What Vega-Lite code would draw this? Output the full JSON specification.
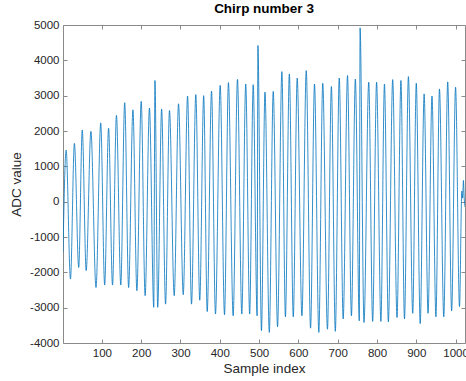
{
  "$schema": "https://vega.github.io/schema/vega-lite/v6.json",
  "autosize": "none",
  "width": 402,
  "height": 318,
  "padding": {"left": 63, "top": 25, "right": 1, "bottom": 38},
  "background": "white",
  "title": {"text": "Chirp number 3", "fontSize": 13.5, "fontWeight": "bold", "color": "#000000", "font": "Liberation Sans", "offset": 4, "anchor": "middle", "frame": "group"},
  "config": {
    "view": {"stroke": null},
    "font": "Liberation Sans",
    "axis": {"grid": false, "domainColor": "#8a8a8a", "tickColor": "#8a8a8a", "domainWidth": 1, "tickWidth": 1, "labelColor": "#262626", "titleColor": "#262626", "labelFontSize": 11.5, "titleFontSize": 13.5, "titleFontWeight": "normal", "labelFont": "Liberation Sans", "titleFont": "Liberation Sans"}
  },
  "data": {"values": [
    {"i": 1, "v": -1435}, {"i": 9, "v": 1460}, {"i": 20, "v": -2190}, {"i": 30, "v": 1650}, {"i": 41, "v": -1860},
    {"i": 50, "v": 2030}, {"i": 60, "v": -1950}, {"i": 72, "v": 1990}, {"i": 85, "v": -2430}, {"i": 97, "v": 2230},
    {"i": 107, "v": -2360}, {"i": 117, "v": 2080}, {"i": 127, "v": -2360}, {"i": 137, "v": 2440}, {"i": 148, "v": -2360},
    {"i": 158, "v": 2800}, {"i": 168, "v": -2430}, {"i": 179, "v": 2600}, {"i": 189, "v": -2520}, {"i": 200, "v": 2840},
    {"i": 210, "v": -2660}, {"i": 221, "v": 2650}, {"i": 232, "v": -2990}, {"i": 235, "v": 3430}, {"i": 242, "v": -2990},
    {"i": 252, "v": 2620}, {"i": 262, "v": -2900}, {"i": 272, "v": 2580}, {"i": 284, "v": -2660}, {"i": 295, "v": 2770},
    {"i": 307, "v": -2630}, {"i": 318, "v": 2990}, {"i": 328, "v": -2900}, {"i": 339, "v": 3030}, {"i": 349, "v": -2790},
    {"i": 359, "v": 3000}, {"i": 368, "v": -3110}, {"i": 379, "v": 3130}, {"i": 389, "v": -3180}, {"i": 401, "v": 3290},
    {"i": 412, "v": -3200}, {"i": 422, "v": 3370}, {"i": 434, "v": -3230}, {"i": 445, "v": 3460}, {"i": 456, "v": -3180},
    {"i": 466, "v": 3330}, {"i": 476, "v": -3180}, {"i": 485, "v": 3310}, {"i": 495, "v": -3230}, {"i": 497, "v": 4420},
    {"i": 506, "v": -3650}, {"i": 515, "v": 3100}, {"i": 526, "v": -3700}, {"i": 536, "v": 3120}, {"i": 547, "v": -3540},
    {"i": 558, "v": 3680}, {"i": 567, "v": -3260}, {"i": 577, "v": 3615}, {"i": 587, "v": -3260}, {"i": 597, "v": 3500},
    {"i": 609, "v": -3230}, {"i": 620, "v": 3710}, {"i": 631, "v": -3580}, {"i": 641, "v": 3330}, {"i": 652, "v": -3700},
    {"i": 662, "v": 3350}, {"i": 674, "v": -3610}, {"i": 684, "v": 3260}, {"i": 694, "v": -3670}, {"i": 704, "v": 3500},
    {"i": 714, "v": -3320}, {"i": 725, "v": 3570}, {"i": 735, "v": -3230}, {"i": 745, "v": 3470}, {"i": 755, "v": -3370},
    {"i": 757, "v": 4920}, {"i": 767, "v": -3420}, {"i": 779, "v": 3380}, {"i": 789, "v": -3390}, {"i": 799, "v": 3380},
    {"i": 810, "v": -3390}, {"i": 819, "v": 3330}, {"i": 829, "v": -3400}, {"i": 840, "v": 3455}, {"i": 851, "v": -3280},
    {"i": 861, "v": 3430}, {"i": 870, "v": -3320}, {"i": 880, "v": 3540}, {"i": 891, "v": -3160}, {"i": 900, "v": 3350},
    {"i": 910, "v": -3450}, {"i": 920, "v": 3050}, {"i": 930, "v": -3160}, {"i": 940, "v": 2990}, {"i": 950, "v": -3260},
    {"i": 959, "v": 3190}, {"i": 970, "v": -3260}, {"i": 980, "v": 3390}, {"i": 990, "v": -3090}, {"i": 1000, "v": 3240},
    {"i": 1010, "v": -2970}, {"i": 1016, "v": 300}, {"i": 1018, "v": 100}, {"i": 1020, "v": 600}, {"i": 1022, "v": 100},
    {"i": 1024, "v": -150}
  ]},
  "layer": [
    {
      "mark": {"type": "line", "color": "#0072BD", "strokeWidth": 0.8, "interpolate": "monotone", "clip": true},
      "encoding": {
        "x": {"field": "i", "type": "quantitative", "scale": {"domain": [1, 1024], "nice": false, "zero": false},
          "axis": {"orient": "bottom", "title": "Sample index", "values": [100, 200, 300, 400, 500, 600, 700, 800, 900, 1000], "labelExpr": "'' + datum.value", "tickSize": -4, "labelPadding": 8, "titlePadding": 3}},
        "y": {"field": "v", "type": "quantitative", "scale": {"domain": [-4000, 5000], "nice": false, "zero": false},
          "axis": {"orient": "left", "title": "ADC value", "values": [-4000, -3000, -2000, -1000, 0, 1000, 2000, 3000, 4000, 5000], "labelExpr": "'' + datum.value", "tickSize": -4, "labelPadding": 8, "titlePadding": 6}}
      }
    },
    {
      "mark": {"type": "point", "opacity": 0},
      "encoding": {
        "x": {"field": "i", "type": "quantitative",
          "axis": {"orient": "top", "title": null, "labels": false, "values": [100, 200, 300, 400, 500, 600, 700, 800, 900, 1000], "tickSize": -4}},
        "y": {"field": "v", "type": "quantitative",
          "axis": {"orient": "right", "title": null, "labels": false, "values": [-4000, -3000, -2000, -1000, 0, 1000, 2000, 3000, 4000, 5000], "tickSize": -4}}
      }
    }
  ],
  "resolve": {"axis": {"x": "independent", "y": "independent"}}
}
